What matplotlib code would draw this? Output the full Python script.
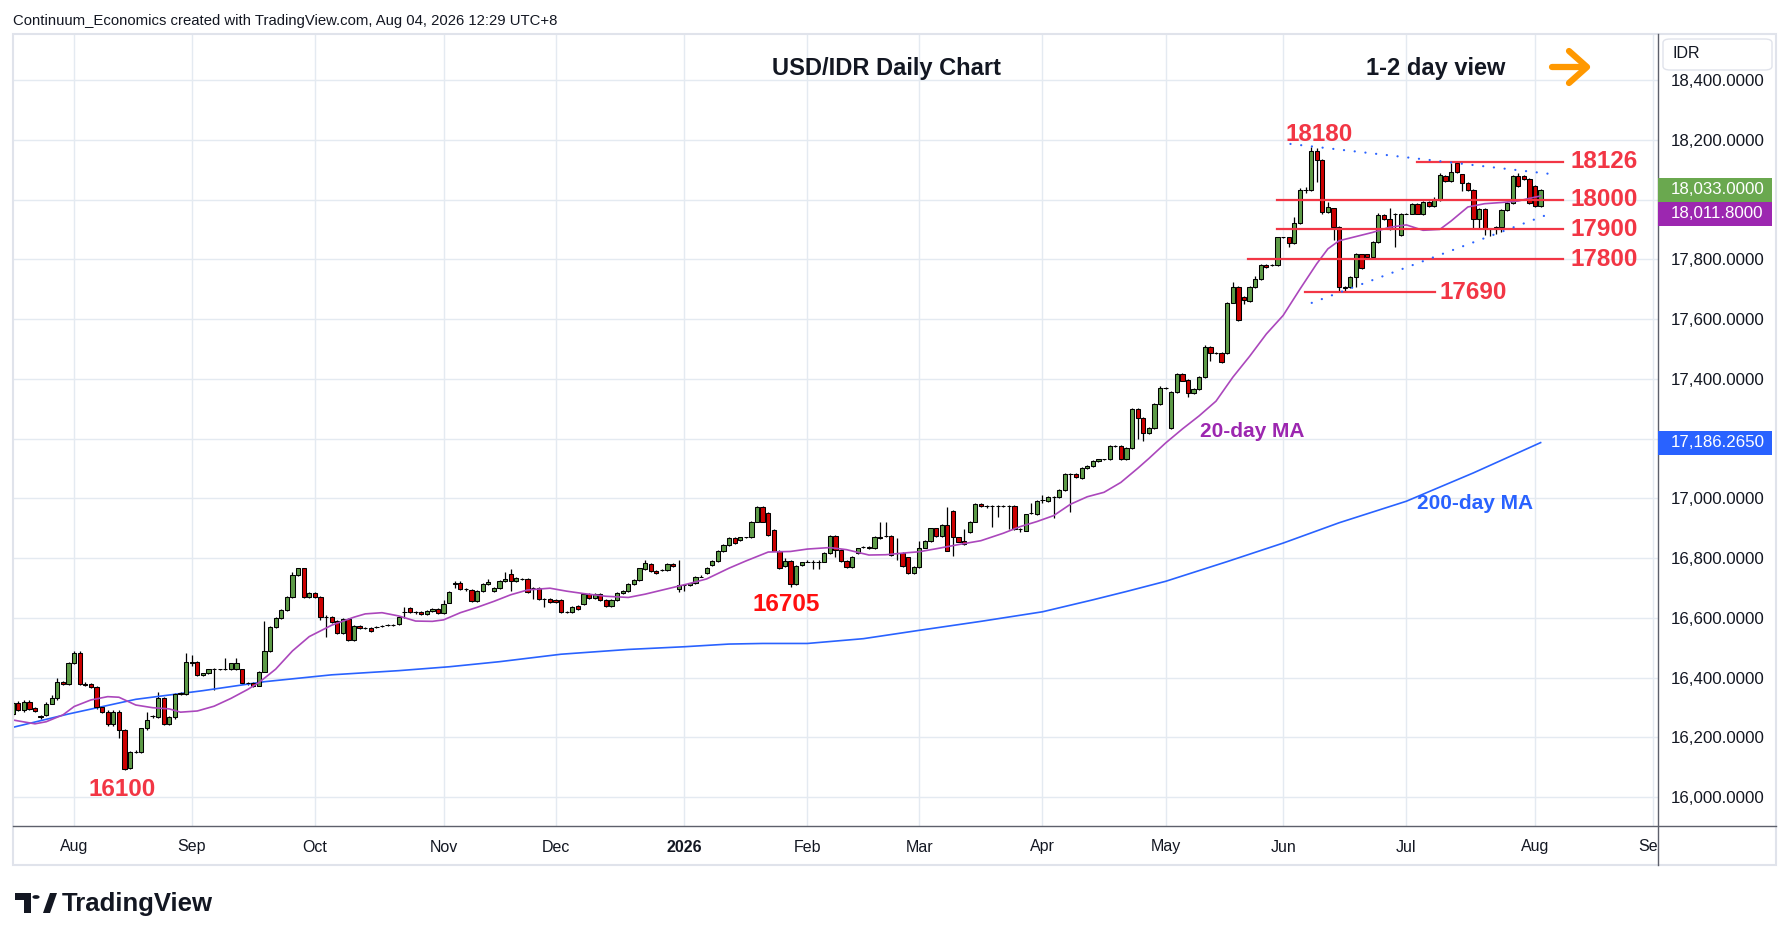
import numpy as np
import pandas as pd
import matplotlib
matplotlib.use("Agg")
import matplotlib.pyplot as plt
import matplotlib.transforms as mtransforms
from matplotlib.patches import Rectangle, FancyBboxPatch, Polygon, Circle
from matplotlib.lines import Line2D

plt.rcParams['font.family'] = ['Liberation Sans', 'DejaVu Sans']

W, H = 1790, 941

# USD/IDR daily bars, weekdays Jul 17 2025 .. Aug 4 2026
opens = [
    16278, 16316, 16291, 16319, 16297, 16272, 16274, 16313, 16330, 16386,
    16378, 16448, 16483, 16378, 16377, 16367, 16300, 16286, 16243, 16286,
    16226, 16096, 16152, 16150, 16230, 16272, 16268, 16330, 16243, 16267,
    16347, 16344, 16451, 16451, 16407, 16414, 16428, 16427, 16427, 16427,
    16427, 16427, 16380, 16380, 16372, 16420, 16489, 16568, 16599, 16626,
    16668, 16743, 16765, 16668, 16682, 16668, 16601, 16601, 16589, 16548,
    16595, 16526, 16572, 16567, 16565, 16570, 16572, 16576, 16576, 16578,
    16618, 16634, 16618, 16620, 16612, 16622, 16629, 16615, 16651, 16712,
    16718, 16695, 16693, 16656, 16690, 16712, 16690, 16699, 16723, 16748,
    16723, 16730, 16730, 16699, 16699, 16663, 16663, 16660, 16660, 16620,
    16620, 16640, 16645, 16679, 16665, 16679, 16660, 16640, 16660, 16682,
    16688, 16712, 16726, 16762, 16779, 16757, 16760, 16760, 16779, 16695,
    16709, 16709, 16715, 16738, 16751, 16777, 16790, 16824, 16844, 16866,
    16860, 16869, 16869, 16922, 16970, 16952, 16894, 16825, 16773, 16790,
    16713, 16777, 16788, 16788, 16788, 16788, 16816, 16875, 16827, 16791,
    16769, 16816, 16836, 16836, 16833, 16872, 16874, 16875, 16818, 16818,
    16802, 16749, 16769, 16835, 16858, 16899, 16875, 16911, 16959, 16869,
    16857, 16888, 16922, 16981, 16974, 16974, 16974, 16974, 16974, 16974,
    16896, 16892, 16950, 16946, 16994, 16992, 17003, 17003, 17028, 17081,
    17081, 17069, 17100, 17109, 17125, 17130, 17130, 17176, 17176, 17130,
    17167, 17298, 17268, 17217, 17234, 17316, 17368, 17234, 17357, 17415,
    17396, 17351, 17365, 17407, 17505, 17487, 17487, 17485, 17655, 17708,
    17674, 17661, 17706, 17733, 17781, 17781, 17781, 17873, 17873, 17853,
    17920, 18032, 18032, 18162, 18132, 17959, 17970, 17909, 17708, 17708,
    17742, 17816, 17816, 17809, 17859, 17948, 17934, 17953, 17881, 17953,
    17953, 17985, 17951, 17991, 17979, 17998, 18080, 18063, 18121, 18084,
    18054, 18032, 17934, 17967, 17900, 17900, 17909, 17965, 17989, 18079,
    18079, 18068, 18046, 17979,
]
highs = [
    16322, 16322, 16324, 16324, 16300, 16276, 16318, 16340, 16397, 16390,
    16452, 16488, 16488, 16384, 16380, 16370, 16304, 16290, 16290, 16290,
    16228, 16155, 16156, 16232, 16283, 16276, 16352, 16336, 16270, 16348,
    16350, 16481, 16475, 16455, 16416, 16430, 16432, 16430, 16464, 16450,
    16464, 16430, 16384, 16384, 16423, 16589, 16572, 16602, 16630, 16672,
    16752, 16768, 16768, 16685, 16685, 16672, 16608, 16605, 16592, 16598,
    16598, 16575, 16576, 16570, 16568, 16574, 16575, 16579, 16579, 16607,
    16637, 16637, 16622, 16623, 16625, 16632, 16632, 16660, 16690, 16722,
    16722, 16700, 16697, 16693, 16715, 16730, 16702, 16726, 16754, 16762,
    16736, 16734, 16734, 16703, 16702, 16666, 16666, 16663, 16663, 16624,
    16638, 16643, 16683, 16683, 16683, 16683, 16663, 16663, 16685, 16693,
    16715, 16729, 16768, 16795, 16783, 16760, 16763, 16783, 16782, 16794,
    16713, 16718, 16741, 16742, 16769, 16793, 16827, 16847, 16869, 16869,
    16872, 16872, 16925, 16973, 16973, 16955, 16897, 16828, 16799, 16793,
    16777, 16788, 16792, 16792, 16792, 16819, 16878, 16878, 16830, 16794,
    16808, 16835, 16839, 16839, 16875, 16922, 16922, 16878, 16867, 16821,
    16805, 16772, 16857, 16861, 16902, 16902, 16914, 16970, 16962, 16872,
    16896, 16925, 16984, 16984, 16977, 16977, 16977, 16977, 16977, 16977,
    16899, 16949, 16983, 16994, 17010, 17006, 17006, 17031, 17084, 17084,
    17084, 17103, 17112, 17128, 17133, 17133, 17179, 17179, 17179, 17170,
    17301, 17301, 17271, 17237, 17319, 17376, 17371, 17360, 17418, 17418,
    17399, 17370, 17410, 17512, 17508, 17490, 17490, 17658, 17725, 17711,
    17677, 17709, 17745, 17784, 17784, 17784, 17876, 17876, 17876, 17940,
    18040, 18041, 18177, 18171, 18135, 17993, 17973, 17912, 17712, 17745,
    17822, 17819, 17819, 17862, 17954, 17951, 17970, 17956, 17956, 17956,
    17988, 17988, 17994, 17994, 18008, 18090, 18083, 18121, 18124, 18087,
    18057, 18035, 17970, 17970, 17903, 17912, 17968, 17992, 18082, 18088,
    18082, 18071, 18049, 18036,
]
lows = [
    16270, 16288, 16285, 16290, 16284, 16262, 16270, 16310, 16326, 16374,
    16375, 16445, 16375, 16372, 16364, 16296, 16282, 16238, 16238, 16196,
    16092, 16094, 16148, 16146, 16226, 16265, 16264, 16240, 16240, 16262,
    16342, 16340, 16440, 16404, 16405, 16412, 16358, 16424, 16424, 16424,
    16424, 16378, 16376, 16368, 16370, 16418, 16486, 16565, 16596, 16623,
    16665, 16740, 16665, 16665, 16665, 16592, 16537, 16584, 16545, 16545,
    16522, 16522, 16564, 16563, 16552, 16566, 16568, 16572, 16572, 16575,
    16600, 16615, 16614, 16609, 16609, 16619, 16612, 16612, 16648, 16700,
    16692, 16690, 16652, 16652, 16687, 16709, 16687, 16696, 16720, 16690,
    16720, 16726, 16682, 16662, 16660, 16637, 16651, 16650, 16617, 16617,
    16617, 16625, 16642, 16662, 16662, 16657, 16637, 16637, 16657, 16679,
    16685, 16709, 16723, 16759, 16754, 16746, 16757, 16757, 16770, 16687,
    16690, 16706, 16712, 16735, 16748, 16774, 16787, 16821, 16841, 16846,
    16857, 16866, 16866, 16919, 16919, 16874, 16822, 16763, 16770, 16702,
    16710, 16774, 16785, 16762, 16762, 16785, 16813, 16802, 16788, 16766,
    16766, 16813, 16833, 16830, 16830, 16863, 16871, 16807, 16793, 16771,
    16746, 16746, 16766, 16832, 16855, 16872, 16872, 16822, 16807, 16852,
    16845, 16885, 16919, 16971, 16966, 16903, 16937, 16971, 16896, 16893,
    16888, 16889, 16946, 16943, 16983, 16989, 16935, 17000, 17025, 16955,
    17067, 17066, 17097, 17106, 17122, 17127, 17127, 17173, 17127, 17127,
    17164, 17197, 17193, 17214, 17231, 17313, 17365, 17231, 17354, 17391,
    17340, 17348, 17362, 17404, 17460, 17484, 17452, 17482, 17652, 17594,
    17650, 17658, 17703, 17730, 17772, 17778, 17778, 17870, 17840, 17850,
    17917, 18023, 18029, 18057, 17953, 17956, 17864, 17692, 17692, 17705,
    17708, 17767, 17806, 17806, 17856, 17931, 17897, 17842, 17878, 17950,
    17950, 17950, 17948, 17976, 17976, 17995, 18060, 18060, 18090, 18028,
    18029, 17900, 17900, 17882, 17878, 17884, 17890, 17962, 17986, 18042,
    18065, 17984, 17976, 17976,
]
closes = [
    16316, 16291, 16319, 16294, 16288, 16268, 16313, 16330, 16384, 16378,
    16448, 16483, 16378, 16376, 16367, 16300, 16286, 16243, 16286, 16226,
    16094, 16152, 16150, 16230, 16258, 16270, 16330, 16243, 16267, 16344,
    16346, 16451, 16449, 16408, 16414, 16427, 16427, 16427, 16427, 16447,
    16447, 16380, 16380, 16372, 16420, 16489, 16568, 16599, 16626, 16668,
    16743, 16765, 16668, 16682, 16668, 16601, 16601, 16587, 16548, 16595,
    16526, 16572, 16567, 16567, 16556, 16570, 16572, 16576, 16576, 16604,
    16618, 16618, 16618, 16612, 16622, 16629, 16615, 16645, 16687, 16715,
    16695, 16695, 16656, 16690, 16712, 16721, 16699, 16723, 16730, 16723,
    16732, 16730, 16685, 16699, 16663, 16663, 16654, 16653, 16620, 16620,
    16635, 16628, 16679, 16665, 16679, 16660, 16640, 16660, 16682, 16690,
    16712, 16726, 16765, 16782, 16757, 16749, 16760, 16779, 16773, 16709,
    16709, 16715, 16738, 16738, 16766, 16790, 16824, 16844, 16866, 16849,
    16869, 16869, 16922, 16970, 16922, 16877, 16825, 16766, 16790, 16713,
    16774, 16786, 16788, 16788, 16788, 16816, 16875, 16827, 16791, 16769,
    16805, 16832, 16836, 16833, 16872, 16866, 16874, 16810, 16818, 16774,
    16749, 16769, 16835, 16858, 16899, 16875, 16911, 16825, 16869, 16855,
    16848, 16922, 16981, 16974, 16974, 16974, 16974, 16974, 16974, 16896,
    16896, 16946, 16950, 16991, 16994, 17003, 17003, 17028, 17081, 17081,
    17070, 17100, 17109, 17125, 17130, 17130, 17176, 17176, 17130, 17167,
    17298, 17268, 17217, 17234, 17316, 17368, 17368, 17357, 17415, 17394,
    17351, 17365, 17407, 17505, 17485, 17487, 17455, 17655, 17708, 17597,
    17663, 17706, 17733, 17781, 17775, 17781, 17873, 17873, 17853, 17920,
    18032, 18032, 18162, 18132, 17959, 17974, 17909, 17708, 17705, 17742,
    17816, 17770, 17809, 17859, 17948, 17934, 17900, 17953, 17953, 17953,
    17985, 17953, 17991, 17979, 17998, 18082, 18063, 18093, 18093, 18054,
    18032, 17934, 17967, 17900, 17900, 17909, 17965, 17989, 18079, 18045,
    18068, 17987, 17979, 18033,
]

# moving averages (bar position, value)
ma20_bar = [-11, -7, -5, -2, 0, 3, 6, 8, 11, 14, 17, 19, 22, 25, 28, 31, 33, 36,
            39, 42, 46, 50, 52, 55, 58, 61, 64, 66, 69, 72, 75, 78, 81, 85, 88,
            91, 95, 99, 102, 106, 110, 113, 117, 120, 124, 128, 131, 135, 138,
            142, 145, 149, 151, 154, 158, 162, 166, 169, 172, 175, 178, 181,
            184, 187, 190, 192, 195, 198, 201, 204, 207, 210, 213, 216, 219,
            222, 224, 226, 229, 232, 235, 238, 241, 244, 246, 249, 252, 255,
            258, 260, 262]
ma20_val = [16258, 16245, 16252, 16275, 16303, 16325, 16336, 16334, 16308, 16299,
            16295, 16284, 16288, 16304, 16330, 16360, 16383, 16428, 16489, 16537,
            16575, 16602, 16613, 16617, 16606, 16589, 16588, 16593, 16617, 16635,
            16655, 16677, 16693, 16699, 16689, 16681, 16672, 16668, 16679, 16697,
            16715, 16730, 16766, 16790, 16820, 16822, 16830, 16835, 16828, 16810,
            16811, 16818, 16821, 16831, 16845, 16858, 16883, 16905, 16922, 16942,
            16980, 17005, 17020, 17053, 17100, 17133, 17185, 17232, 17276, 17325,
            17405, 17475, 17550, 17612, 17700, 17785, 17835, 17862, 17876, 17890,
            17907, 17915, 17897, 17900, 17928, 17975, 17986, 17990, 17995, 18004,
            18011.8]
ma200_bar = [-11, -1, 11, 23, 34, 46, 58, 67, 76, 87, 99, 109, 117, 123, 131,
             141, 151, 162, 173, 182, 188, 195, 206, 216, 226, 238, 250, 262]
ma200_val = [16233, 16278, 16327, 16356, 16386, 16409, 16423, 16436, 16453, 16478,
             16494, 16503, 16512, 16514, 16514, 16530, 16558, 16588, 16620, 16660,
             16688, 16722, 16788, 16850, 16918, 16990, 17085, 17186.265]

# horizontal levels and their extent in bars
level_val = [18126, 18000, 17900, 17800, 17690]
level_from = [239.9, 214.9, 214.9, 209.7, 219.9]
level_to = [266.0, 266.0, 266.0, 266.0, 243.1]

# dotted triangle
tri_up_bar, tri_up_val = [217.3, 264.0], [18186, 18085]
tri_lo_bar, tri_lo_val = [221.1, 264.0], [17654, 17955]

last_price = 18033.0
price_ticks = list(range(16000, 18401, 200))

GREEN = '#5d9b47'
RED = '#cc0000'
LEVEL = '#f23645'
GRID = '#e4eaf1'
AXIS = '#5d606b'


def fx(px):
    return px / W


def fy(py):
    return 1 - py / H


fig = plt.figure(figsize=(W / 100, H / 100), dpi=100)
fig.patch.set_facecolor('white')
ax = fig.add_axes([fx(12.7), fy(826), fx(1658) - fx(12.7), fy(34) - fy(826)])
ax.set_facecolor('white')
for s in ax.spines.values():
    s.set_visible(False)

dates = pd.bdate_range('2025-07-17', '2026-08-04')
anchor = dates.get_loc(pd.Timestamp('2025-08-01'))
x = np.arange(len(dates)) - anchor
o, h, l, c = (np.array(a, dtype=float) for a in (opens, highs, lows, closes))

ax.set_xlim(-10.98, 282.97)
ax.set_ylim(15903, 18554)

# grid
ax.set_yticks(price_ticks)
ax.yaxis.grid(True, color=GRID, lw=1, zorder=0)
ax.set_axisbelow(True)
ext = pd.bdate_range('2025-07-17', '2026-09-30')
ext_x = pd.Series(np.arange(len(ext)) - anchor, index=ext)
firsts = ext_x.groupby(ext.to_period('M')).first().iloc[1:]
ax.set_xticks([])
clip = Rectangle((0, 0), fx(1658), 1, transform=fig.transFigure)
tb = mtransforms.blended_transform_factory(ax.transData, ax.transAxes)
for per, xi in firsts.items():
    ax.axvline(xi, color=GRID, lw=1, zorder=0)
    lbl = str(per.year) if per.month == 1 else per.strftime('%b')
    t = ax.text(xi, -21 / 792, lbl, transform=tb, ha='center', va='center',
                fontsize=11.5, color='#131722',
                fontweight='bold' if per.month == 1 else 'normal')
    t.set_clip_on(True)
    t.set_clip_path(clip)

# price tags cover the axis labels next to them
tag_h = 24 / 0.29875
tag_vals = [last_price, last_price - tag_h, ma200_val[-1]]

ax.yaxis.tick_right()
ax.tick_params(axis='y', length=0, pad=9.4, labelsize=12.2, labelcolor='#131722')
ax.set_yticklabels(['' if min(abs(v - t) for t in tag_vals) < tag_h * 0.8
                    else f'{v:,.4f}' for v in price_ticks])

# moving averages
ax.plot(ma200_bar, ma200_val, color='#2962ff', lw=1.2, zorder=2.5)
ax.plot(ma20_bar, ma20_val, color='#ab47bc', lw=1.2, zorder=4)

# candles
up = c >= o
ax.vlines(x, l, h, color='black', lw=0.9, zorder=2)
lo = np.minimum(o, c)
ht = np.abs(c - o)
ax.bar(x[up], ht[up], bottom=lo[up], width=0.76, color=GREEN,
       edgecolor='black', linewidth=0.75, zorder=3)
ax.bar(x[~up], ht[~up], bottom=lo[~up], width=0.76, color=RED,
       edgecolor='black', linewidth=0.75, zorder=3)

# levels
for v, a, b in zip(level_val, level_from, level_to):
    ax.plot([a, b], [v, v], color=LEVEL, lw=1.6, zorder=5)
lab_kw = dict(fontsize=17.5, fontweight='bold', color=LEVEL, va='center', zorder=6)
for v in level_val[:4]:
    ax.text(267.3, v, str(v), ha='left', **lab_kw)
ax.text(244.0, 17690, '17690', ha='left', **lab_kw)
ax.text(222.4, 18216, '18180', ha='center', **lab_kw)
ax.text(8.5, 16024, '16100', ha='center', **lab_kw)
ax.text(127.2, 16643, '16705', ha='center', fontsize=17.5, fontweight='bold',
        color='#ff1010', va='center', zorder=6)

# dotted triangle
dot = dict(color='#2962ff', lw=1.6, linestyle=(0, (0.05, 4.8)),
           dash_capstyle='round', zorder=6)
ax.plot(tri_up_bar, tri_up_val, **dot)
ax.plot(tri_lo_bar, tri_lo_val, **dot)

ax.text(201.1, 17222, '20-day MA', ha='left', va='center', fontsize=15,
        fontweight='bold', color='#9c27b0')
ax.text(240.0, 16984, '200-day MA', ha='left', va='center', fontsize=15,
        fontweight='bold', color='#2962ff')

# frame and axis lines
fig.add_artist(Rectangle((fx(12.7), fy(865)), fx(1776) - fx(12.7), fy(34) - fy(865),
                         transform=fig.transFigure, fill=False, ec='#e0e3eb', lw=1.5))
fig.add_artist(Line2D([fx(12.7), fx(1776)], [fy(826), fy(826)], color=AXIS, lw=1))
fig.add_artist(Line2D([fx(1658), fx(1658)], [fy(34), fy(865)], color=AXIS, lw=1))

# price tags
tb2 = mtransforms.blended_transform_factory(fig.transFigure, ax.transData)


def tag(val, text, color):
    fig.add_artist(Rectangle((fx(1658), val - tag_h / 2), fx(1772) - fx(1658), tag_h,
                             transform=tb2, fc=color, ec='none', zorder=5))
    fig.text(fx(1671), val, text, transform=tb2, color='white', fontsize=12.2,
             va='center', ha='left', zorder=6)


tag(tag_vals[0], f'{last_price:,.4f}', '#6aa84f')
tag(tag_vals[1], f'{ma20_val[-1]:,.4f}', '#9c27b0')
tag(tag_vals[2], f'{ma200_val[-1]:,.4f}', '#2962ff')

# currency box
fig.add_artist(FancyBboxPatch((fx(1663), fy(70)), fx(1772) - fx(1663), fy(39) - fy(70),
                              boxstyle='round,pad=0,rounding_size=0.004',
                              transform=fig.transFigure, fc='white', ec='#e0e3eb',
                              lw=1, zorder=5))
fig.text(fx(1673), fy(54), 'IDR', fontsize=11.5, color='#131722', va='center', zorder=6)

# titles
fig.text(fx(13), fy(21), 'Continuum_Economics created with TradingView.com, Aug 04, 2026 12:29 UTC+8',
         fontsize=10.7, color='#131722', va='center')
fig.text(fx(887), fy(68), 'USD/IDR Daily Chart', ha='center', va='center',
         fontsize=17, fontweight='bold', color='#131722')
fig.text(fx(1436), fy(68), '1-2 day view', ha='center', va='center',
         fontsize=17, fontweight='bold', color='#131722')

# orange arrow
arr = dict(color='#ff9800', lw=4.5, solid_capstyle='round', solid_joinstyle='round',
           transform=fig.transFigure)
fig.add_artist(Line2D([fx(1552), fx(1585)], [fy(67), fy(67)], **arr))
fig.add_artist(Line2D([fx(1569), fx(1587), fx(1569)], [fy(51), fy(67), fy(83)], **arr))

# TradingView logo
k = '#131722'
fig.add_artist(Polygon([(fx(15), fy(893)), (fx(31), fy(893)), (fx(31), fy(913)),
                        (fx(24), fy(913)), (fx(24), fy(900)), (fx(15), fy(900))],
                       closed=True, transform=fig.transFigure, fc=k, ec='none'))
fig.add_artist(Circle((fx(36), fy(897)), 3.6 / W, transform=fig.transFigure, fc=k, ec='none'))
fig.add_artist(Polygon([(fx(43), fy(913)), (fx(50), fy(893)), (fx(57), fy(893)), (fx(50), fy(913))],
                       closed=True, transform=fig.transFigure, fc=k, ec='none'))
fig.text(fx(62), fy(904), 'TradingView', fontsize=18.5, fontweight='bold', color=k, va='center')

fig.savefig('out.png', dpi=100)
